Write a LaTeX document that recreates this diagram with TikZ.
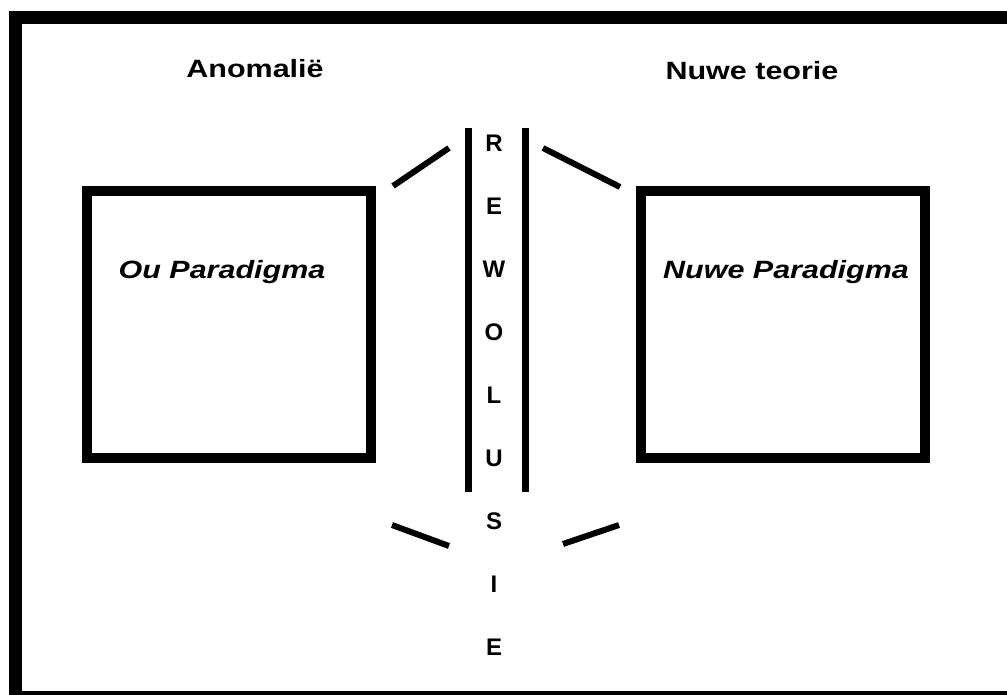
\documentclass[tikz,border=0pt]{standalone}
\usepackage{fontspec}
\setsansfont{Liberation Sans}[FakeStretch=1.22]
\newfontfamily\colfont{Liberation Sans}
\usepackage{tikz}

\begin{document}
\begin{tikzpicture}[x=1pt,y=-1pt,
  ttl/.style={font=\sffamily\bfseries\fontsize{25}{30}\selectfont,anchor=base,inner sep=0pt},
  par/.style={font=\sffamily\bfseries\itshape\fontsize{25}{30}\selectfont,anchor=base,inner sep=0pt},
  pbox/.style={draw,line width=10pt,minimum width=284pt,minimum height=267pt,inner sep=0pt},
  letr/.style={font=\colfont\bfseries\fontsize{24}{28}\selectfont,inner sep=0pt},
  bar/.style={line width=7pt},
  tick/.style={line width=6pt}]
\useasboundingbox (0,0) rectangle (1007,694);
\draw[line width=13pt] (15.5,17.5) rectangle (1030,697);
\node[pbox] (old) at (228.5,324.5) {};
\node[pbox] (new) at (782.5,324) {};
\node[par] (oldtxt) at (222,278) {Ou Paradigma};
\node[par] (newtxt) at (786,278) {Nuwe Paradigma};
\node[ttl] (anom) at (255,77) {Anomalië};
\node[ttl] (teor) at (752,79) {Nuwe teorie};
\coordinate (bl) at (468,128);
\coordinate (br) at (525,128);
\draw[bar] (bl) -- ++(0,364);
\draw[bar] (br) -- ++(0,364);
\foreach \ch [count=\i from 0] in {R,E,W,O,L,U,S,I,E}
  \node[letr] (let\i) at (494,{143+63*\i}) {\ch};
\draw[tick] (393,186) -- (449,148);
\draw[tick] (543,148) -- (620,187);
\draw[tick] (392,525) -- (449,546);
\draw[tick] (563,544) -- (619,525);
\end{tikzpicture}
\end{document}
